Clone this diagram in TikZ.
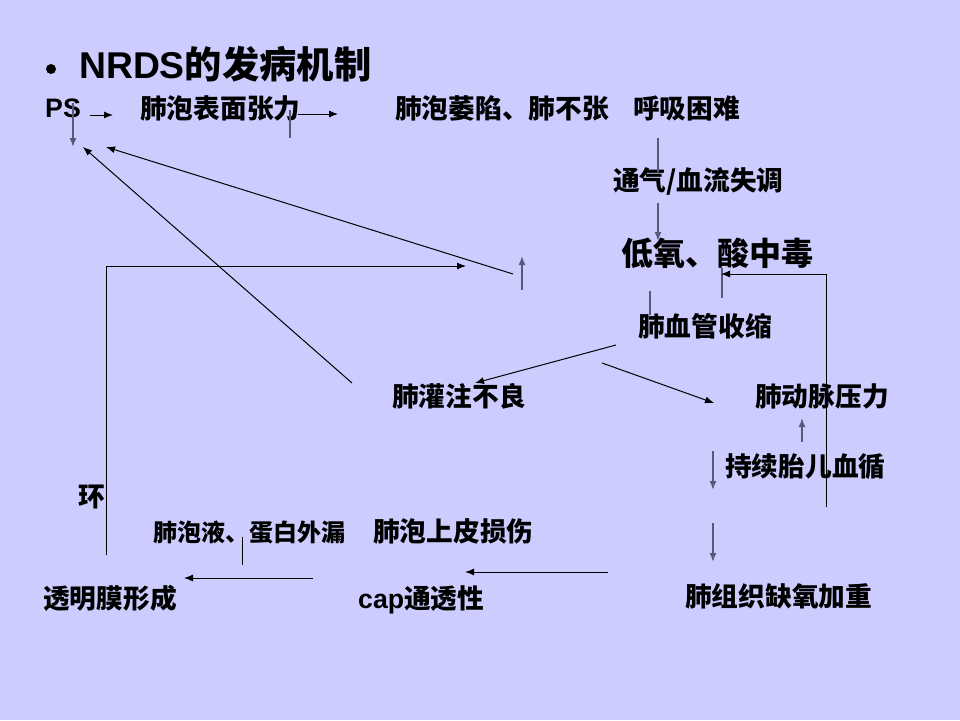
\documentclass[tikz,border=0pt]{standalone}
\usepackage{fontspec}
\setmainfont{Liberation Sans}
\newfontfamily\cjk{Noto Sans CJK SC}
\usetikzlibrary{arrows.meta}
\definecolor{bg}{RGB}{204,204,255}
\definecolor{gl}{RGB}{88,88,120}
\begin{document}
\begin{tikzpicture}[x=1pt,y=-1pt,
  txt/.style={anchor=base west,inner sep=0pt,font=\cjk\bfseries\fontsize{26.7}{30}\selectfont},
  bigtxt/.style={txt,font=\cjk\bfseries\fontsize{32}{36}\selectfont},
  smalltxt/.style={txt,font=\cjk\bfseries\fontsize{24}{28}\selectfont},
  titletxt/.style={txt,font=\cjk\bfseries\fontsize{37.3}{42}\selectfont},
  arr/.style={-{Latex[length=9,width=7]},line width=1,draw=black},
  garr/.style={-{Latex[length=9,width=7]},line width=1.6,draw=gl},
  gline/.style={line width=1.6,draw=gl},
  bline/.style={line width=1,draw=black}]
\fill[bg] (0,0) rectangle (960,720);
\useasboundingbox (0,0) rectangle (960,720);

% title
\node[circle,fill=black,inner sep=0pt,minimum size=10pt] (bul) at (51,69) {};
\node[titletxt] (title) at (79,78) {{\rmfamily NRDS}的发病机制};

% texts
\node[txt] (ps) at (45,117) {{\rmfamily PS}};
\node[txt] (bmzl) at (140,118) {肺泡表面张力};
\node[txt] (fpwx) at (395,118) {肺泡萎陷、肺不张};
\node[txt] (hxkn) at (633,118) {呼吸困难};
\node[txt] (tq) at (613,190) {通气/血流失调};
\node[bigtxt] (dy) at (621,265) {低氧、酸中毒};
\node[txt] (xgss) at (638,336) {肺血管收缩};
\node[txt] (gzbl) at (392,406) {肺灌注不良};
\node[txt] (dmyl) at (755,406) {肺动脉压力};
\node[txt] (cxtr) at (725,476) {持续胎儿血循};
\node[txt] (huan) at (78,506) {环};
\node[smalltxt] (fpy) at (153,541) {肺泡液、蛋白外漏};
\node[txt] (spss) at (373,541) {肺泡上皮损伤};
\node[txt] (tmm) at (43,608) {透明膜形成};
\node[txt] (cap) at (358,608) {{\rmfamily cap}通透性};
\node[txt] (zzqy) at (685,606) {肺组织缺氧加重};

% coordinates
\coordinate (c1a) at (73,103);  \coordinate (c1b) at (73,147);
\coordinate (c2a) at (90,115);  \coordinate (c2b) at (113,115);
\coordinate (c3a) at (298,114); \coordinate (c3b) at (338,114);
\coordinate (c4a) at (290,110); \coordinate (c4b) at (290,138);
\coordinate (c5a) at (658,138); \coordinate (c5b) at (658,172);
\coordinate (c6a) at (658,203); \coordinate (c6b) at (658,241);
\coordinate (c7a) at (352,383); \coordinate (c7b) at (83,147);
\coordinate (c8a) at (513,274); \coordinate (c8b) at (106,147);
\coordinate (c9a) at (106,555); \coordinate (c9m) at (106,266); \coordinate (c9b) at (466,266);
\coordinate (c10a) at (522,290); \coordinate (c10b) at (522,256);
\coordinate (c11a) at (650,291); \coordinate (c11b) at (650,315);
\coordinate (c12a) at (722,298); \coordinate (c12b) at (722,268);
\coordinate (c13a) at (826,507); \coordinate (c13m) at (826,274); \coordinate (c13b) at (721,274);
\coordinate (c14a) at (616,345); \coordinate (c14b) at (475,383);
\coordinate (c15a) at (602,363); \coordinate (c15b) at (714,403);
\coordinate (c16a) at (802,442); \coordinate (c16b) at (802,418);
\coordinate (c17a) at (713,451); \coordinate (c17b) at (713,490);
\coordinate (c18a) at (713,523); \coordinate (c18b) at (713,562);
\coordinate (c19a) at (608,572); \coordinate (c19b) at (465,572);
\coordinate (c20a) at (313,578); \coordinate (c20b) at (184,578);
\coordinate (c21a) at (242,537); \coordinate (c21b) at (242,565);

% connectors
\draw[garr] (c1a) -- (c1b);
\draw[arr] (c2a) -- (c2b);
\draw[arr] (c3a) -- (c3b);
\draw[gline] (c4a) -- (c4b);
\draw[gline] (c5a) -- (c5b);
\draw[garr] (c6a) -- (c6b);
\draw[arr] (c7a) -- (c7b);
\draw[arr] (c8a) -- (c8b);
\draw[arr] (c9a) -- (c9m) -- (c9b);
\draw[garr] (c10a) -- (c10b);
\draw[gline] (c11a) -- (c11b);
\draw[gline] (c12a) -- (c12b);
\draw[arr] (c13a) -- (c13m) -- (c13b);
\draw[arr] (c14a) -- (c14b);
\draw[arr] (c15a) -- (c15b);
\draw[garr] (c16a) -- (c16b);
\draw[garr] (c17a) -- (c17b);
\draw[garr] (c18a) -- (c18b);
\draw[arr] (c19a) -- (c19b);
\draw[arr] (c20a) -- (c20b);
\draw[bline] (c21a) -- (c21b);
\end{tikzpicture}
\end{document}
